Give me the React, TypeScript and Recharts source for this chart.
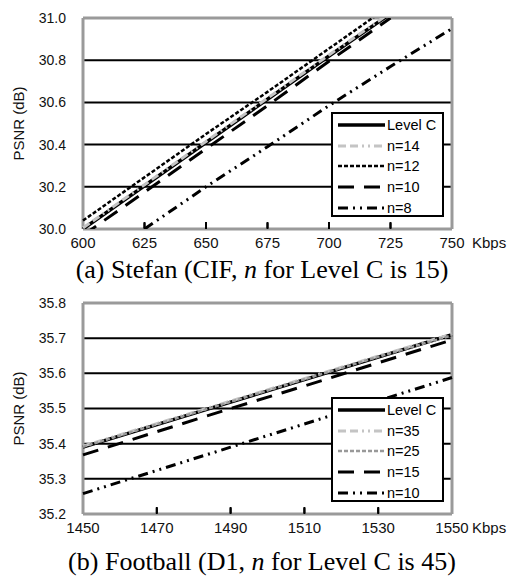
import { LineChart, Line, XAxis, YAxis, CartesianGrid, Legend, ReferenceLine, Label } from "recharts";

// (a) Stefan
const ratesA = [600, 625, 650, 675, 700, 725, 750];
const levelCA = [30.0, 30.205, 30.41, 30.615, 30.82, 31.02, null];
const n14A = [30.005, 30.21, 30.415, 30.62, 30.825, 31.025, null];
const n12A = [30.04, 30.245, 30.45, 30.65, 30.855, 31.06, null];
const n10A = [29.97, 30.175, 30.38, 30.585, 30.795, 31.0, null];
const n8A = [null, 30.0, 30.2, 30.39, 30.585, 30.77, 30.95];
const xTicksA = [600, 625, 650, 675, 700, 725, 750];
const yTicksA = [30.0, 30.2, 30.4, 30.6, 30.8, 31.0];
const namesA = ["Level C", "n=14", "n=12", "n=10", "n=8"];

// (b) Football
const ratesB = [1450, 1470, 1490, 1510, 1530, 1550];
const levelCB = [35.39, 35.454, 35.518, 35.582, 35.646, 35.71];
const n35B = [35.393, 35.457, 35.521, 35.585, 35.649, 35.712];
const n25B = [35.391, 35.455, 35.519, 35.583, 35.647, 35.708];
const n15B = [35.368, 35.434, 35.5, 35.564, 35.63, 35.695];
const n10B = [35.258, 35.324, 35.39, 35.456, 35.522, 35.588];
const xTicksB = [1450, 1470, 1490, 1510, 1530, 1550];
const yTicksB = [35.2, 35.3, 35.4, 35.5, 35.6, 35.7, 35.8];
const namesB = ["Level C", "n=35", "n=25", "n=15", "n=10"];

const SANS = "'Liberation Sans', Arial, sans-serif";
const SERIF = "'Liberation Serif', 'Times New Roman', serif";

interface LineStyle {
  color: string;
  width: number;
  dash?: string;
}

const stylesA: LineStyle[] = [
  { color: "#000", width: 3.5 },
  { color: "#c4c4c4", width: 3, dash: "8 4 8 4 2 4 2 4" },
  { color: "#000", width: 2.5, dash: "4 2" },
  { color: "#000", width: 3, dash: "16 10" },
  { color: "#000", width: 3, dash: "10 5 2 5 2 5" },
];
const stylesB: LineStyle[] = [
  { color: "#000", width: 3.5 },
  { color: "#c4c4c4", width: 3, dash: "8 4 8 4 2 4 2 4" },
  { color: "#999", width: 2.5, dash: "4 2" },
  { color: "#000", width: 3, dash: "16 10" },
  { color: "#000", width: 3, dash: "10 5 2 5 2 5" },
];

function buildRows(rates: number[], series: (number | null)[][]) {
  return rates.map((rate, i) => {
    const row: Record<string, number | null> = { rate };
    series.forEach((s, k) => {
      row["s" + k] = s[i];
    });
    return row;
  });
}

function makeTick(xMin: number, xMax: number) {
  return (props: any) => {
    const { x, y, payload } = props;
    const inner = payload.value !== xMin && payload.value !== xMax;
    return (
      <g>
        {inner && <line x1={x} x2={x} y1={y - 9} y2={y - 15} stroke="#000" strokeWidth={2} />}
        <text x={x} y={y} dy="0.71em" textAnchor="middle" fontSize={15} fontFamily={SANS} fill="#111">
          {payload.value}
        </text>
      </g>
    );
  };
}

function makeLegend(names: string[], styles: LineStyle[]) {
  return () => (
    <div
      style={{
        width: 113,
        height: 105,
        boxSizing: "border-box",
        border: "2px solid #000",
        background: "#fff",
        paddingLeft: 5,
        paddingTop: 1,
      }}
    >
      {names.map((name, i) => (
        <div key={name} style={{ display: "flex", alignItems: "center", height: 20.6 }}>
          <svg width={47} height={8}>
            <line
              x1={0}
              y1={4}
              x2={47}
              y2={4}
              stroke={styles[i].color}
              strokeWidth={styles[i].width}
              strokeDasharray={styles[i].dash}
            />
          </svg>
          <span style={{ marginLeft: 2, fontSize: 14.5, fontFamily: SANS, color: "#000" }}>{name}</span>
        </div>
      ))}
    </div>
  );
}

interface PanelProps {
  rates: number[];
  series: (number | null)[][];
  names: string[];
  styles: LineStyle[];
  xTicks: number[];
  yTicks: number[];
}

function Panel({ rates, series, names, styles, xTicks, yTicks }: PanelProps) {
  const data = buildRows(rates, series);
  const xMin = xTicks[0];
  const xMax = xTicks[xTicks.length - 1];
  const yMin = yTicks[0];
  const yMax = yTicks[yTicks.length - 1];
  const markTop = yMin + (yMax - yMin) * 0.028;
  return (
    <LineChart width={514} height={250} data={data} margin={{ top: 18, right: 62, left: 8, bottom: 0 }}>
      <CartesianGrid
        vertical={false}
        horizontalValues={yTicks.slice(1, -1)}
        stroke="#000"
        strokeWidth={2}
        strokeDasharray=""
      />
      {names.map((name, i) => (
        <Line
          key={name}
          dataKey={"s" + i}
          name={name}
          type="linear"
          stroke={styles[i].color}
          strokeWidth={styles[i].width}
          strokeDasharray={styles[i].dash}
          dot={false}
          activeDot={false}
          isAnimationActive={false}
        />
      ))}
      {xTicks.slice(1, -1).map((v) => (
        <ReferenceLine
          key={"m" + v}
          segment={[
            { x: v, y: yMin },
            { x: v, y: markTop },
          ]}
          stroke="#000"
          strokeWidth={2}
          ifOverflow="visible"
        />
      ))}
      {/* gray frame of the plot area */}
      <CartesianGrid
        horizontalValues={[yMin, yMax]}
        verticalValues={[xMin, xMax]}
        stroke="#9a9a9a"
        strokeWidth={3}
        strokeDasharray=""
      />
      <XAxis
        dataKey="rate"
        type="number"
        domain={[xMin, xMax]}
        ticks={xTicks}
        axisLine={false}
        tickSize={0}
        tickMargin={8}
        height={21}
        interval={0}
        tick={makeTick(xMin, xMax)}
      >
        <Label
          content={(p: any) => (
            <text
              x={p.viewBox.x + p.viewBox.width + 20}
              y={p.viewBox.y + 8}
              dy="0.71em"
              fontSize={15}
              fontFamily={SANS}
              fill="#111"
            >
              Kbps
            </text>
          )}
        />
      </XAxis>
      <YAxis
        type="number"
        domain={[yMin, yMax]}
        ticks={yTicks}
        allowDataOverflow
        axisLine={false}
        tickLine={false}
        tickSize={0}
        tickMargin={17}
        width={75}
        interval={0}
        tickFormatter={(v: number) => v.toFixed(1)}
        tick={{ fontSize: 14, fontFamily: SANS, fill: "#111" }}
      >
        <Label
          content={(p: any) => {
            const cx = 18;
            const cy = p.viewBox.y + p.viewBox.height / 2;
            return (
              <text
                x={cx}
                y={cy}
                transform={`rotate(-90 ${cx} ${cy})`}
                textAnchor="middle"
                dominantBaseline="central"
                fontSize={15}
                fontFamily={SANS}
                fill="#111"
              >
                PSNR (dB)
              </text>
            );
          }}
        />
      </YAxis>
      <Legend
        layout="vertical"
        align="center"
        verticalAlign="middle"
        content={makeLegend(names, styles)}
        wrapperStyle={{ left: 331, top: 112, width: 113, height: 105 }}
      />
    </LineChart>
  );
}

const captionStyle = {
  position: "absolute" as const,
  left: 0,
  width: 514,
  textAlign: "center" as const,
  fontFamily: SERIF,
  fontSize: 26,
  lineHeight: "30px",
  color: "#000",
  paddingLeft: 10,
  boxSizing: "border-box" as const,
};

export default function App() {
  return (
    <div style={{ position: "absolute", left: 0, top: 0, width: 514, height: 578, background: "#fff" }}>
      <div style={{ position: "absolute", left: 0, top: 0 }}>
        <Panel
          rates={ratesA}
          series={[levelCA, n14A, n12A, n10A, n8A]}
          names={namesA}
          styles={stylesA}
          xTicks={xTicksA}
          yTicks={yTicksA}
        />
      </div>
      <div style={{ ...captionStyle, top: 255 }}>
        (a) Stefan (CIF, <i>n</i> for Level C is 15)
      </div>
      <div style={{ position: "absolute", left: 0, top: 285 }}>
        <Panel
          rates={ratesB}
          series={[levelCB, n35B, n25B, n15B, n10B]}
          names={namesB}
          styles={stylesB}
          xTicks={xTicksB}
          yTicks={yTicksB}
        />
      </div>
      <div style={{ ...captionStyle, top: 547 }}>
        (b) Football (D1, <i>n</i> for Level C is 45)
      </div>
    </div>
  );
}
